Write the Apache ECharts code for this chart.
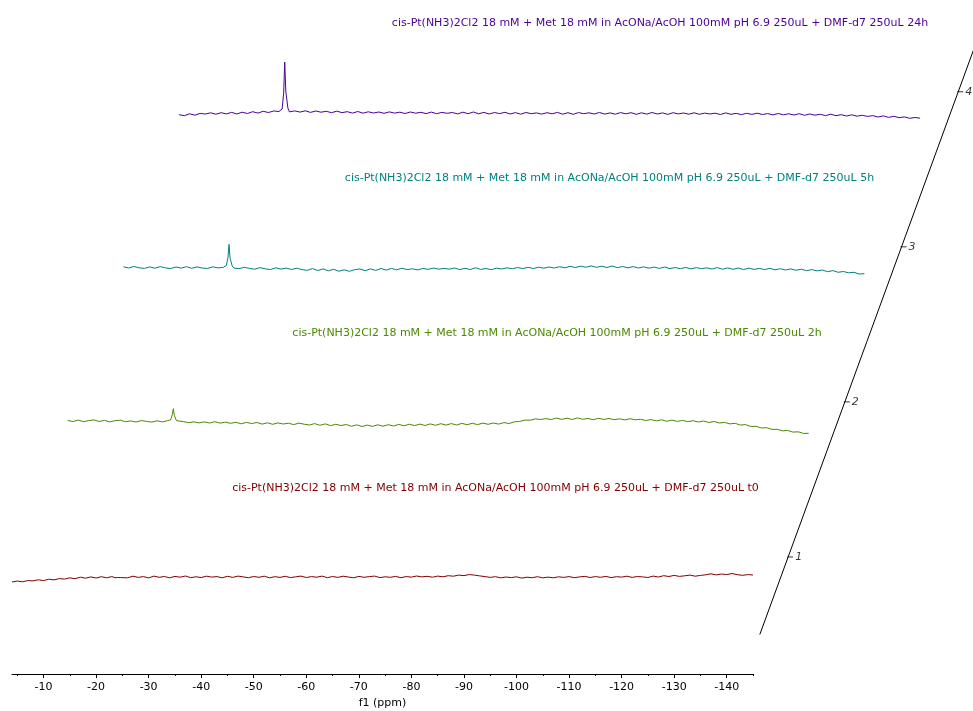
<!DOCTYPE html>
<html>
<head>
<meta charset="utf-8">
<script src="https://cdn.jsdelivr.net/npm/echarts@6/dist/echarts.min.js"></script>
<style>html,body{margin:0;padding:0;background:#fff}#c{width:973px;height:711px}</style>
</head>
<body>
<div id="c"></div>
<script>
// chemical shift (ppm) sampling
const ppm = [-4,-5,-6,-7,-8,-9,-10,-11,-12,-13,-14,-15,-16,-17,-18,-19,-20,-21,-22,-23,
  -23.6,-23.9,-24.1,-24.3,-24.7,-25,
  -26,-27,-28,-29,-30,-31,-32,-33,-34,-35,
  -36,-37,-38,-39,-40,-41,-42,-43,-44,-45,
  -46,-47,-48,-49,-50,-51,-52,-53,-54,-55,
  -56,-57,-58,-59,-60,-61,-62,-63,-64,-65,
  -66,-67,-68,-69,-70,-71,-72,-73,-74,-75,
  -76,-77,-78,-79,-80,-81,-82,-83,-84,-85,
  -86,-87,-88,-89,-90,-91,-92,-93,-94,-95,
  -96,-97,-98,-99,-100,-101,-102,-103,-104,-105,
  -106,-107,-108,-109,-110,-111,-112,-113,-114,-115,
  -116,-117,-118,-119,-120,-121,-122,-123,-124,-125,
  -126,-127,-128,-129,-130,-131,-132,-133,-134,-135,
  -136,-137,-138,-139,-140,-141,-142,-143,-144,-145];

// intensities (arbitrary units)
const spec_t0 = [-4,-3,-3.8,-2.6,-2.9,-1.8,-2.6,-1.2,-1.9,-0.6,-1.1,0.2,-0.7,0.8,-0.2,1.1,0,1.3,0.2,1.4,
  0.3,1.2,0.5,1.6,0.4,1.3,
  0.2,1.8,0.6,1.4,0.1,1.9,0.7,1.5,0.2,1.6,
  0.8,2,0.3,1.2,0.5,1.8,0.9,1.4,0.2,1.7,
  0.6,1.9,1.1,0.3,1.5,0.7,1.8,0.2,1.3,0.6,
  1.7,0.4,1.2,1.9,0.5,1.4,0.8,1.9,0.3,1.5,
  0.6,1.8,1,0.2,1.6,0.7,1.4,1.9,0.4,1.2,
  0.7,1.6,0.3,1.4,0.9,2,1.1,1.7,0.8,1.9,
  1.2,2.3,1.8,2.9,2.4,3.4,2.9,2.1,1.4,0.6,
  1.3,0.2,1,0.4,1.2,-0.1,0.8,0.3,1.3,0.1,
  0.9,0.2,1.2,0.6,1.4,0.3,1.1,1.6,0.5,1.4,
  0.7,1.6,0.4,1.3,0.9,1.8,0.6,1.5,1.1,0.5,
  1.9,1,2.3,1.5,2.6,1.6,2.2,2.9,1.8,2.6,
  3.2,4.2,3.1,4,3.4,4.5,3.3,2.7,3.4,3];
const spec_2h = [3.2,2.2,3.6,2,3.1,3.8,2.2,3.3,1.8,3,3.5,2,2.8,1.7,3.1,2.3,1.6,2.9,1.8,3,
  4,9,15,8,3,1.4,
  2.1,1,1.9,0.8,1.8,0.7,2,0.6,1.5,0.4,
  1.4,-0.1,1.3,0.2,1.2,-0.4,0.9,-0.6,0.8,-0.3,
  0.5,-0.9,0.6,-0.5,-1.3,0.1,-1.6,-0.2,-1.9,-0.6,
  -1.8,-0.8,-2.6,-1.2,-2.8,-1.4,-2.7,-1.1,-2.5,-1,
  -2.3,-0.7,-2.1,-0.5,-1.9,-0.4,-1.8,-0.2,-1.6,0,
  -1.4,0.1,-1.3,0.3,-1,0.4,-0.9,0.6,-0.6,0.7,
  -0.4,1.1,0.2,1.9,2.3,3.6,3.5,4.8,4.2,5.1,
  4.2,5.6,4.3,5.5,4.2,5.8,4.4,5.2,4,5.4,
  4.3,5.2,4,4.9,3.8,5,3.9,4.4,3.2,4.1,
  2.8,3.9,2.4,3.6,2.3,3.3,2,3,1.7,2.7,
  1.2,2.2,0.7,1.3,-0.2,0.4,-1.4,-0.9,-2.8,-2.6,
  -4.3,-4,-5.7,-5.6,-7.1,-6.8,-8.4,-8.1,-9.7,-9.6];
const spec_5h = [2.6,1.4,2.9,1.6,1,2.5,1.2,2.8,1.5,0.9,2.4,1.3,2.7,1.1,2.5,1.4,0.9,2.6,1.5,2,
  4,12,25,11,3.5,1.4,
  0.7,2.1,1,0.2,1.8,0.5,-0.1,1.6,0.3,1.3,
  -0.1,1.2,-0.3,-0.9,0.8,-1.1,0.5,-1.4,0.1,-1.8,
  -0.4,-1.9,-0.3,0.4,-1.3,0.5,-1,0.9,-0.7,1,
  -0.4,1.2,-0.2,0.6,-0.5,0.9,0.1,1.3,0.2,1,
  0.2,1.4,-0.2,1.1,-0.1,1.6,0,0.9,-0.3,1.2,
  0.4,1.6,0.6,1.9,0.8,2.1,0.9,2.2,1.2,2.4,
  1.4,2.7,1.6,3.1,1.9,3.2,2.2,3.5,2.1,3.2,
  1.9,3.4,1.7,2.9,1.6,2.8,1.4,2.6,1.2,2.3,
  1,2.4,0.8,1.9,0.7,2,0.5,1.8,0.7,1.6,
  0.4,1.8,0.2,1.5,0.1,1.4,-0.1,1.2,0,1,
  -0.2,1.1,-0.5,0.7,-0.6,0.5,-0.9,0.2,-1.3,-0.2,
  -1.5,-0.6,-2.3,-1.2,-2.9,-2.1,-3.4,-2.9,-4.6,-4.3];
const spec_24h = [0.4,-0.6,1.3,-0.1,1.7,1.1,2.3,0.9,2.4,1.2,2.7,1.1,2.9,1.6,3.4,2,3.8,2.6,4.1,3.6,
  6,22,53,24,7,3.2,
  4.2,3,4.3,2.7,4.1,2.9,3.8,2.4,3.9,2.5,
  3.4,2,3.6,1.9,3.3,2.1,3.1,1.8,3.2,2,
  2.9,1.6,3.1,1.9,2.8,1.5,3,1.4,2.7,1.8,
  2.6,1.2,2.9,1.4,3.1,1.3,2.7,1.1,2.6,1.5,
  2.8,1.1,2.5,0.9,2.6,1.4,2.2,1,2.4,1.3,
  2.7,0.9,2.4,0.8,2.5,1.4,2.3,1.1,2.6,1,
  2.2,0.9,2.5,1.3,2.4,0.8,2.3,1,2.6,1.1,
  2.2,0.7,2.4,1.2,2.1,0.9,2.3,0.8,2,1.1,
  1.9,0.6,2.2,0.8,1.7,0.5,1.8,0.7,1.9,0.6,
  1.5,0.2,1.6,0.3,1.3,0.1,1.4,-0.2,1.1,-0.1,
  0.8,-0.5,0.9,-0.6,0.4,-0.9,0.3,-1.1,-0.2,-1.3,
  -0.5,-1.9,-0.8,-2.3,-1.2,-2.6,-1.8,-3.2,-2.4,-3.1];

const spectra = [spec_t0, spec_2h, spec_5h, spec_24h];
const labels = [
  'cis-Pt(NH3)2Cl2 18 mM + Met 18 mM in AcONa/AcOH 100mM pH 6.9 250uL + DMF-d7 250uL t0',
  'cis-Pt(NH3)2Cl2 18 mM + Met 18 mM in AcONa/AcOH 100mM pH 6.9 250uL + DMF-d7 250uL 2h',
  'cis-Pt(NH3)2Cl2 18 mM + Met 18 mM in AcONa/AcOH 100mM pH 6.9 250uL + DMF-d7 250uL 5h',
  'cis-Pt(NH3)2Cl2 18 mM + Met 18 mM in AcONa/AcOH 100mM pH 6.9 250uL + DMF-d7 250uL 24h'
];
const colors = ['#800000', '#4a8a00', '#008080', '#4b0096'];
const xMajorTicks = [-10,-20,-30,-40,-50,-60,-70,-80,-90,-100,-110,-120,-130,-140];
const xMinorTicks = [-5,-15,-25,-35,-45,-55,-65,-75,-85,-95,-105,-115,-125,-135,-145];
const stackTicks = [1, 2, 3, 4];
const stackRange = [0.5, 4.32];

// layout
const FONT = 'DejaVu Sans';
const X0 = 12, W = 741, DX = 55.7, BASE0 = 578, DY = 154.3;
const labelCenters = [495.5, 557, 609.5, 660];
const grids = [], xAxes = [], yAxes = [], series = [], graphics = [];
for (let i = 0; i < 4; i++) {
  const base = BASE0 - DY * i;
  grids.push({ left: X0 + DX * i, width: W, top: base - 80, height: 100 });
  xAxes.push({ gridIndex: i, type: 'value', min: -145, max: -4, inverse: true, show: false });
  yAxes.push({ gridIndex: i, type: 'value', min: -20, max: 80, show: false });
  series.push({
    type: 'line', xAxisIndex: i, yAxisIndex: i, symbol: 'none', silent: true,
    lineStyle: { color: colors[i], width: 1 }, itemStyle: { color: colors[i] },
    data: ppm.map((p, k) => [p, spectra[i][k]]), clip: false
  });
  graphics.push({
    type: 'text', x: labelCenters[i], y: 488 - 155 * i, silent: true,
    style: { text: labels[i], align: 'center', verticalAlign: 'middle',
      fill: colors[i], font: '11px "DejaVu Sans"' }
  });
}
// visible ppm axis (grid 4 major, grid 5 minor ticks)
grids.push({ left: X0, width: W, top: 600, height: 74 });
xAxes.push({
  gridIndex: 4, type: 'value', min: -145, max: -4, inverse: true,
  name: 'f1 (ppm)', nameLocation: 'middle', nameGap: 24,
  nameTextStyle: { fontFamily: FONT, fontSize: 11, color: '#000' },
  axisLine: { lineStyle: { color: '#000', width: 1 } },
  axisTick: { customValues: xMajorTicks, length: 4, lineStyle: { color: '#000' } },
  axisLabel: { customValues: xMajorTicks, margin: 8, fontFamily: FONT, fontSize: 11, color: '#000' },
  splitLine: { show: false }
});
yAxes.push({ gridIndex: 4, type: 'value', min: 0, max: 1, show: false });
grids.push({ left: X0, width: W, top: 600, height: 74 });
xAxes.push({
  gridIndex: 5, type: 'value', min: -145, max: -4, inverse: true,
  axisLine: { show: false },
  axisTick: { customValues: xMinorTicks, length: 2, lineStyle: { color: '#000' } },
  axisLabel: { show: false }, splitLine: { show: false }
});
yAxes.push({ gridIndex: 5, type: 'value', min: 0, max: 1, show: false });
series.push({ type: 'line', xAxisIndex: 4, yAxisIndex: 4, data: [] });

// diagonal stack axis (grid 6): s=0.5 -> (759.8, 634.5), one unit = 56.7 px right, 155 px up
grids.push({ left: 759.8, width: 212.6, top: 53, height: 581.5 });
xAxes.push({ gridIndex: 6, type: 'value', min: 0.5, max: 4.25, show: false });
yAxes.push({ gridIndex: 6, type: 'value', min: 0.5, max: 4.25, show: false });
series.push({
  type: 'line', xAxisIndex: 6, yAxisIndex: 6, symbol: 'none', silent: true, clip: false,
  lineStyle: { color: '#000', width: 1 },
  data: stackRange.map(s => [s, s])
});
series.push({
  type: 'scatter', xAxisIndex: 6, yAxisIndex: 6, silent: true, clip: false,
  symbol: 'rect', symbolSize: [6, 1], symbolOffset: [2, 0],
  itemStyle: { color: '#000' },
  label: { show: true, position: 'right', distance: 2, formatter: p => String(p.value[0]),
    fontFamily: FONT, fontSize: 11, fontStyle: 'italic', color: '#000' },
  data: stackTicks.map(s => [s, s])
});

const chart = echarts.init(document.getElementById('c'), null, { renderer: 'canvas' });
chart.setOption({
  animation: false, backgroundColor: '#fff',
  graphic: graphics, grid: grids, xAxis: xAxes, yAxis: yAxes, series: series
});
</script>
</body>
</html>
